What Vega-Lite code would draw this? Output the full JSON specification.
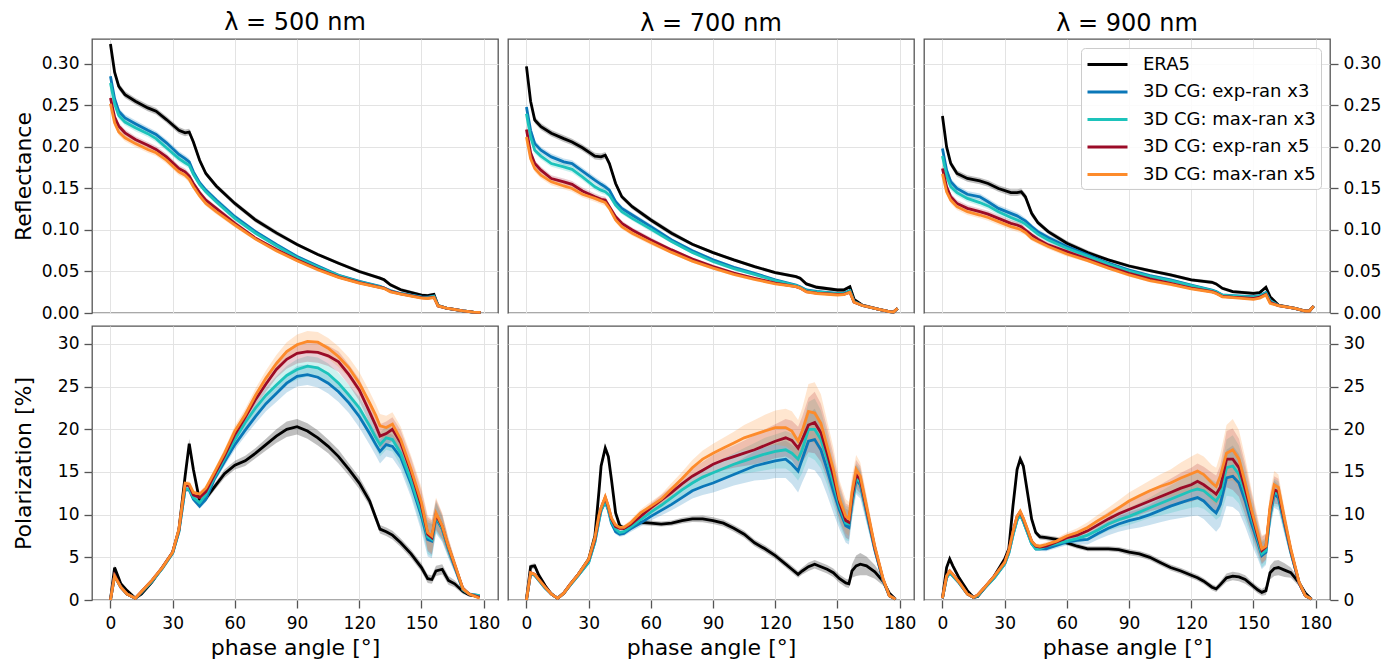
{
"$schema":"https://vega.github.io/schema/vega-lite/v6.json",
"background":"white",
"padding":{"left":11,"top":10,"right":5,"bottom":0},
"datasets":{
"R5":[
{"x":0,"E":0.324,"B":0.285,"C":0.277,"D":0.259,"O":0.252,"a":0.004,"g":0.004},
{"x":2,"E":0.290,"B":0.258,"C":0.252,"D":0.236,"O":0.229,"a":0.004,"g":0.004},
{"x":4,"E":0.273,"B":0.243,"C":0.238,"D":0.225,"O":0.218,"a":0.004,"g":0.004},
{"x":7,"E":0.263,"B":0.235,"C":0.230,"D":0.217,"O":0.211,"a":0.004,"g":0.004},
{"x":12,"E":0.255,"B":0.228,"C":0.223,"D":0.209,"O":0.204,"a":0.004,"g":0.004},
{"x":18,"E":0.247,"B":0.220,"C":0.216,"D":0.202,"O":0.197,"a":0.004,"g":0.004},
{"x":22,"E":0.243,"B":0.215,"C":0.210,"D":0.197,"O":0.193,"a":0.004,"g":0.004},
{"x":27,"E":0.233,"B":0.205,"C":0.199,"D":0.188,"O":0.184,"a":0.004,"g":0.004},
{"x":33,"E":0.220,"B":0.191,"C":0.186,"D":0.174,"O":0.170,"a":0.004,"g":0.004},
{"x":36,"E":0.217,"B":0.186,"C":0.181,"D":0.170,"O":0.166,"a":0.004,"g":0.004},
{"x":38,"E":0.218,"B":0.182,"C":0.178,"D":0.165,"O":0.161,"a":0.004,"g":0.004},
{"x":40,"E":0.206,"B":0.170,"C":0.167,"D":0.156,"O":0.152,"a":0.004,"g":0.003},
{"x":43,"E":0.184,"B":0.157,"C":0.155,"D":0.145,"O":0.141,"a":0.004,"g":0.003},
{"x":46,"E":0.168,"B":0.148,"C":0.146,"D":0.136,"O":0.132,"a":0.003,"g":0.003},
{"x":51,"E":0.153,"B":0.136,"C":0.134,"D":0.126,"O":0.122,"a":0.003,"g":0.003},
{"x":60,"E":0.132,"B":0.116,"C":0.114,"D":0.108,"O":0.106,"a":0.003,"g":0.003},
{"x":70,"E":0.112,"B":0.098,"C":0.096,"D":0.090,"O":0.089,"a":0.003,"g":0.002},
{"x":80,"E":0.0965,"B":0.0825,"C":0.081,"D":0.0765,"O":0.075,"a":0.003,"g":0.002},
{"x":90,"E":0.0825,"B":0.068,"C":0.0665,"D":0.064,"O":0.063,"a":0.002,"g":0.002},
{"x":100,"E":0.0705,"B":0.0565,"C":0.0555,"D":0.053,"O":0.052,"a":0.002,"g":0.002},
{"x":110,"E":0.060,"B":0.0455,"C":0.045,"D":0.0435,"O":0.043,"a":0.002,"g":0.002},
{"x":120,"E":0.050,"B":0.038,"C":0.0375,"D":0.0365,"O":0.036,"a":0.002,"g":0.002},
{"x":130,"E":0.042,"B":0.032,"C":0.0315,"D":0.031,"O":0.0305,"a":0.002,"g":0.001},
{"x":132,"E":0.040,"B":0.030,"C":0.030,"D":0.030,"O":0.0295,"a":0.002,"g":0.001},
{"x":135,"E":0.034,"B":0.027,"C":0.0265,"D":0.026,"O":0.0255,"a":0.002,"g":0.001},
{"x":140,"E":0.028,"B":0.0235,"C":0.0232,"D":0.023,"O":0.0228,"a":0.002,"g":0.001},
{"x":150,"E":0.0215,"B":0.0195,"C":0.019,"D":0.0185,"O":0.018,"a":0.002,"g":0.001},
{"x":153,"E":0.021,"B":0.019,"C":0.0185,"D":0.018,"O":0.0175,"a":0.002,"g":0.001},
{"x":156,"E":0.0225,"B":0.0205,"C":0.020,"D":0.019,"O":0.0185,"a":0.002,"g":0.001},
{"x":158,"E":0.009,"B":0.009,"C":0.009,"D":0.0085,"O":0.0085,"a":0.001,"g":0.001},
{"x":162,"E":0.006,"B":0.006,"C":0.006,"D":0.006,"O":0.006,"a":0.001,"g":0.001},
{"x":170,"E":0.0025,"B":0.0025,"C":0.0025,"D":0.0025,"O":0.0025,"a":0.001,"g":0.001},
{"x":175,"E":0.001,"B":0.001,"C":0.001,"D":0.001,"O":0.001,"a":0.0005,"g":0.0005},
{"x":178.5,"E":0.0008,"B":0.0008,"C":0.0008,"D":0.0008,"O":0.0008,"a":0.0005,"g":0.0005}
],
"R7":[
{"x":0,"E":0.297,"B":0.248,"C":0.240,"D":0.221,"O":0.212,"a":0.005,"g":0.005},
{"x":2,"E":0.255,"B":0.220,"C":0.212,"D":0.193,"O":0.186,"a":0.004,"g":0.004},
{"x":4,"E":0.2325,"B":0.204,"C":0.196,"D":0.180,"O":0.174,"a":0.004,"g":0.004},
{"x":7,"E":0.2245,"B":0.196,"C":0.189,"D":0.172,"O":0.166,"a":0.004,"g":0.004},
{"x":12,"E":0.2165,"B":0.188,"C":0.180,"D":0.162,"O":0.158,"a":0.004,"g":0.004},
{"x":18,"E":0.210,"B":0.182,"C":0.176,"D":0.158,"O":0.153,"a":0.004,"g":0.004},
{"x":22,"E":0.206,"B":0.180,"C":0.173,"D":0.155,"O":0.150,"a":0.004,"g":0.004},
{"x":27,"E":0.199,"B":0.171,"C":0.164,"D":0.147,"O":0.143,"a":0.004,"g":0.004},
{"x":33,"E":0.189,"B":0.160,"C":0.152,"D":0.140,"O":0.138,"a":0.004,"g":0.004},
{"x":36,"E":0.188,"B":0.155,"C":0.148,"D":0.137,"O":0.135,"a":0.004,"g":0.004},
{"x":38,"E":0.190,"B":0.152,"C":0.146,"D":0.136,"O":0.133,"a":0.004,"g":0.004},
{"x":40,"E":0.180,"B":0.148,"C":0.142,"D":0.128,"O":0.126,"a":0.004,"g":0.003},
{"x":43,"E":0.156,"B":0.134,"C":0.130,"D":0.116,"O":0.112,"a":0.004,"g":0.003},
{"x":46,"E":0.140,"B":0.126,"C":0.122,"D":0.108,"O":0.104,"a":0.003,"g":0.003},
{"x":51,"E":0.128,"B":0.118,"C":0.114,"D":0.100,"O":0.096,"a":0.003,"g":0.003},
{"x":60,"E":0.112,"B":0.104,"C":0.101,"D":0.088,"O":0.085,"a":0.003,"g":0.003},
{"x":70,"E":0.096,"B":0.088,"C":0.086,"D":0.076,"O":0.073,"a":0.003,"g":0.002},
{"x":80,"E":0.0827,"B":0.075,"C":0.073,"D":0.065,"O":0.0625,"a":0.002,"g":0.002},
{"x":90,"E":0.0727,"B":0.064,"C":0.062,"D":0.056,"O":0.054,"a":0.002,"g":0.002},
{"x":100,"E":0.0639,"B":0.055,"C":0.0535,"D":0.048,"O":0.0465,"a":0.002,"g":0.002},
{"x":110,"E":0.0558,"B":0.0478,"C":0.0465,"D":0.0418,"O":0.0406,"a":0.002,"g":0.002},
{"x":120,"E":0.0486,"B":0.040,"C":0.039,"D":0.036,"O":0.035,"a":0.002,"g":0.001},
{"x":130,"E":0.0438,"B":0.0337,"C":0.033,"D":0.0317,"O":0.0317,"a":0.002,"g":0.001},
{"x":132,"E":0.0418,"B":0.0317,"C":0.031,"D":0.030,"O":0.030,"a":0.002,"g":0.001},
{"x":135,"E":0.035,"B":0.0277,"C":0.027,"D":0.0257,"O":0.0255,"a":0.002,"g":0.001},
{"x":140,"E":0.031,"B":0.026,"C":0.0255,"D":0.024,"O":0.0235,"a":0.002,"g":0.001},
{"x":150,"E":0.0277,"B":0.0237,"C":0.0232,"D":0.0225,"O":0.0217,"a":0.002,"g":0.001},
{"x":153,"E":0.0277,"B":0.0237,"C":0.0232,"D":0.0225,"O":0.022,"a":0.002,"g":0.001},
{"x":156,"E":0.0317,"B":0.027,"C":0.0265,"D":0.025,"O":0.025,"a":0.002,"g":0.001},
{"x":158,"E":0.0165,"B":0.0137,"C":0.0135,"D":0.013,"O":0.013,"a":0.001,"g":0.001},
{"x":162,"E":0.0096,"B":0.009,"C":0.009,"D":0.009,"O":0.009,"a":0.001,"g":0.001},
{"x":170,"E":0.0044,"B":0.0044,"C":0.0044,"D":0.0044,"O":0.0044,"a":0.001,"g":0.001},
{"x":175,"E":0.0016,"B":0.0016,"C":0.0016,"D":0.0016,"O":0.0016,"a":0.0005,"g":0.0005},
{"x":177,"E":0.0012,"B":0.0012,"C":0.0012,"D":0.0012,"O":0.0012,"a":0.0005,"g":0.0005},
{"x":179,"E":0.0056,"B":0.0056,"C":0.0056,"D":0.0056,"O":0.0056,"a":0.001,"g":0.001}
],
"R9":[
{"x":0,"E":0.2373,"B":0.198,"C":0.189,"D":0.174,"O":0.1675,"a":0.005,"g":0.005},
{"x":2,"E":0.200,"B":0.172,"C":0.165,"D":0.152,"O":0.146,"a":0.004,"g":0.004},
{"x":4,"E":0.180,"B":0.158,"C":0.152,"D":0.140,"O":0.136,"a":0.004,"g":0.004},
{"x":7,"E":0.168,"B":0.150,"C":0.145,"D":0.132,"O":0.128,"a":0.004,"g":0.004},
{"x":12,"E":0.162,"B":0.143,"C":0.138,"D":0.126,"O":0.122,"a":0.004,"g":0.004},
{"x":18,"E":0.159,"B":0.140,"C":0.133,"D":0.122,"O":0.118,"a":0.004,"g":0.004},
{"x":22,"E":0.156,"B":0.134,"C":0.129,"D":0.119,"O":0.115,"a":0.004,"g":0.004},
{"x":27,"E":0.150,"B":0.126,"C":0.122,"D":0.114,"O":0.110,"a":0.004,"g":0.004},
{"x":33,"E":0.145,"B":0.120,"C":0.115,"D":0.108,"O":0.104,"a":0.004,"g":0.004},
{"x":36,"E":0.145,"B":0.117,"C":0.112,"D":0.106,"O":0.102,"a":0.004,"g":0.004},
{"x":38,"E":0.146,"B":0.114,"C":0.110,"D":0.104,"O":0.100,"a":0.004,"g":0.004},
{"x":40,"E":0.140,"B":0.111,"C":0.107,"D":0.100,"O":0.097,"a":0.004,"g":0.003},
{"x":43,"E":0.120,"B":0.104,"C":0.101,"D":0.094,"O":0.090,"a":0.004,"g":0.003},
{"x":46,"E":0.109,"B":0.098,"C":0.095,"D":0.089,"O":0.086,"a":0.003,"g":0.003},
{"x":51,"E":0.098,"B":0.091,"C":0.088,"D":0.082,"O":0.080,"a":0.003,"g":0.003},
{"x":60,"E":0.084,"B":0.080,"C":0.078,"D":0.074,"O":0.071,"a":0.003,"g":0.003},
{"x":70,"E":0.0727,"B":0.070,"C":0.0685,"D":0.065,"O":0.063,"a":0.003,"g":0.002},
{"x":80,"E":0.0639,"B":0.060,"C":0.059,"D":0.056,"O":0.054,"a":0.002,"g":0.002},
{"x":90,"E":0.0566,"B":0.0518,"C":0.0506,"D":0.0478,"O":0.0458,"a":0.002,"g":0.002},
{"x":100,"E":0.051,"B":0.045,"C":0.044,"D":0.041,"O":0.039,"a":0.002,"g":0.002},
{"x":110,"E":0.0458,"B":0.0398,"C":0.039,"D":0.0357,"O":0.0345,"a":0.002,"g":0.002},
{"x":120,"E":0.0398,"B":0.0335,"C":0.033,"D":0.030,"O":0.029,"a":0.002,"g":0.001},
{"x":130,"E":0.037,"B":0.0277,"C":0.027,"D":0.0257,"O":0.025,"a":0.002,"g":0.001},
{"x":132,"E":0.035,"B":0.026,"C":0.0255,"D":0.024,"O":0.0235,"a":0.002,"g":0.001},
{"x":135,"E":0.0297,"B":0.0217,"C":0.0215,"D":0.020,"O":0.0195,"a":0.002,"g":0.001},
{"x":140,"E":0.0257,"B":0.021,"C":0.0205,"D":0.019,"O":0.0185,"a":0.002,"g":0.001},
{"x":150,"E":0.0237,"B":0.0197,"C":0.019,"D":0.0177,"O":0.0165,"a":0.002,"g":0.001},
{"x":153,"E":0.0245,"B":0.021,"C":0.0205,"D":0.019,"O":0.018,"a":0.002,"g":0.001},
{"x":156,"E":0.031,"B":0.0245,"C":0.024,"D":0.0225,"O":0.0217,"a":0.002,"g":0.001},
{"x":158,"E":0.0197,"B":0.015,"C":0.0145,"D":0.013,"O":0.0116,"a":0.001,"g":0.001},
{"x":162,"E":0.0096,"B":0.009,"C":0.009,"D":0.009,"O":0.009,"a":0.001,"g":0.001},
{"x":170,"E":0.0056,"B":0.0056,"C":0.0056,"D":0.0056,"O":0.0056,"a":0.001,"g":0.001},
{"x":175,"E":0.0024,"B":0.0024,"C":0.0024,"D":0.0024,"O":0.0024,"a":0.0005,"g":0.0005},
{"x":177,"E":0.0024,"B":0.0024,"C":0.0024,"D":0.0024,"O":0.0024,"a":0.0005,"g":0.0005},
{"x":179,"E":0.0084,"B":0.0084,"C":0.0084,"D":0.0084,"O":0.0084,"a":0.001,"g":0.001}
],
"P5":[
{"x":0,"E":0,"B":0,"C":0,"D":0,"O":0,"a":0,"g":0},
{"x":2,"E":3.8,"B":2.8,"C":2.8,"D":2.9,"O":2.8,"a":0.3,"g":0.2},
{"x":5,"E":1.9,"B":1.5,"C":1.5,"D":1.5,"O":1.5,"a":0.2,"g":0.15},
{"x":8,"E":1.1,"B":0.7,"C":0.7,"D":0.7,"O":0.7,"a":0.15,"g":0.15},
{"x":12,"E":0.2,"B":0.2,"C":0.2,"D":0.2,"O":0.2,"a":0.1,"g":0.1},
{"x":15,"E":0.7,"B":0.9,"C":0.9,"D":1.0,"O":1.0,"a":0.1,"g":0.1},
{"x":20,"E":2.1,"B":2.2,"C":2.2,"D":2.3,"O":2.3,"a":0.15,"g":0.15},
{"x":25,"E":3.8,"B":3.7,"C":3.7,"D":3.8,"O":3.8,"a":0.2,"g":0.2},
{"x":30,"E":5.6,"B":5.5,"C":5.5,"D":5.6,"O":5.6,"a":0.2,"g":0.2},
{"x":33,"E":8.2,"B":8.0,"C":8.0,"D":8.2,"O":8.3,"a":0.3,"g":0.3},
{"x":36,"E":14.5,"B":13.0,"C":13.0,"D":13.5,"O":13.7,"a":0.5,"g":0.3},
{"x":38,"E":18.3,"B":12.9,"C":13.0,"D":13.4,"O":13.6,"a":0.6,"g":0.3},
{"x":40,"E":15.3,"B":11.8,"C":12.0,"D":12.3,"O":12.6,"a":0.5,"g":0.3},
{"x":43,"E":11.6,"B":11.0,"C":11.4,"D":12.0,"O":12.4,"a":0.4,"g":0.3},
{"x":46,"E":11.9,"B":11.8,"C":12.3,"D":12.7,"O":13.1,"a":0.4,"g":0.35},
{"x":50,"E":13.2,"B":14.1,"C":14.3,"D":14.6,"O":14.9,"a":0.4,"g":0.4},
{"x":55,"E":14.8,"B":16.2,"C":16.6,"D":16.9,"O":17.2,"a":0.5,"g":0.5},
{"x":60,"E":15.8,"B":18.2,"C":18.8,"D":19.4,"O":19.8,"a":0.5,"g":0.6},
{"x":65,"E":16.3,"B":19.9,"C":20.8,"D":21.4,"O":21.7,"a":0.6,"g":0.7},
{"x":70,"E":17.2,"B":21.5,"C":22.5,"D":23.5,"O":24.0,"a":0.6,"g":0.8},
{"x":75,"E":18.2,"B":23.0,"C":24.0,"D":25.3,"O":26.0,"a":0.7,"g":0.9},
{"x":80,"E":19.2,"B":24.2,"C":25.2,"D":27.0,"O":27.7,"a":0.8,"g":1.0},
{"x":85,"E":20.0,"B":25.4,"C":26.3,"D":28.2,"O":29.1,"a":0.9,"g":1.1},
{"x":90,"E":20.3,"B":26.2,"C":27.0,"D":28.9,"O":29.9,"a":0.9,"g":1.2},
{"x":95,"E":19.8,"B":26.4,"C":27.4,"D":29.1,"O":30.3,"a":0.9,"g":1.2},
{"x":100,"E":19.0,"B":26.1,"C":27.2,"D":29.0,"O":30.2,"a":0.9,"g":1.2},
{"x":105,"E":18.0,"B":25.4,"C":26.5,"D":28.6,"O":29.5,"a":0.8,"g":1.2},
{"x":110,"E":16.8,"B":24.4,"C":25.4,"D":27.9,"O":28.5,"a":0.8,"g":1.2},
{"x":115,"E":15.3,"B":23.1,"C":24.0,"D":26.4,"O":27.2,"a":0.7,"g":1.2},
{"x":120,"E":13.7,"B":21.5,"C":22.5,"D":24.6,"O":25.4,"a":0.7,"g":1.3},
{"x":125,"E":11.6,"B":19.5,"C":20.4,"D":22.0,"O":23.1,"a":0.6,"g":1.3},
{"x":128,"E":9.6,"B":18.2,"C":19.0,"D":20.4,"O":21.6,"a":0.5,"g":1.3},
{"x":130,"E":8.3,"B":17.4,"C":18.2,"D":19.2,"O":20.4,"a":0.5,"g":1.4},
{"x":133,"E":8.0,"B":18.2,"C":19.0,"D":19.5,"O":20.2,"a":0.5,"g":1.4},
{"x":136,"E":7.6,"B":18.0,"C":18.8,"D":20.0,"O":20.6,"a":0.5,"g":1.4},
{"x":140,"E":6.7,"B":16.7,"C":17.2,"D":18.4,"O":18.8,"a":0.5,"g":1.5},
{"x":145,"E":5.4,"B":13.6,"C":14.0,"D":15.0,"O":15.3,"a":0.5,"g":1.6},
{"x":150,"E":3.8,"B":9.8,"C":10.2,"D":11.0,"O":11.4,"a":0.5,"g":1.8},
{"x":153,"E":2.5,"B":7.1,"C":7.4,"D":7.7,"O":7.9,"a":0.5,"g":2.0},
{"x":155,"E":2.4,"B":6.9,"C":7.1,"D":7.3,"O":7.5,"a":0.5,"g":2.0},
{"x":157,"E":3.4,"B":9.6,"C":9.8,"D":10.0,"O":10.2,"a":0.6,"g":1.8},
{"x":160,"E":3.6,"B":8.3,"C":8.4,"D":8.6,"O":8.7,"a":0.6,"g":1.5},
{"x":163,"E":2.3,"B":5.9,"C":6.0,"D":6.2,"O":6.3,"a":0.5,"g":1.0},
{"x":166,"E":1.9,"B":3.9,"C":4.0,"D":4.1,"O":4.2,"a":0.4,"g":0.7},
{"x":170,"E":1.0,"B":1.2,"C":1.2,"D":1.3,"O":1.3,"a":0.3,"g":0.4},
{"x":173,"E":0.6,"B":0.7,"C":0.7,"D":0.7,"O":0.7,"a":0.2,"g":0.2},
{"x":178,"E":0.4,"B":0.5,"C":0.5,"D":0.3,"O":0.2,"a":0.1,"g":0.1}
],
"P7":[
{"x":0,"E":0.1,"B":0,"C":0,"D":0,"O":0,"a":0.1,"g":0},
{"x":2,"E":3.9,"B":3.1,"C":3.1,"D":3.2,"O":3.2,"a":0.3,"g":0.2},
{"x":4,"E":4.0,"B":2.9,"C":2.9,"D":3.0,"O":3.0,"a":0.3,"g":0.2},
{"x":6,"E":2.9,"B":2.3,"C":2.3,"D":2.4,"O":2.4,"a":0.2,"g":0.15},
{"x":9,"E":1.7,"B":1.4,"C":1.4,"D":1.5,"O":1.5,"a":0.15,"g":0.1},
{"x":12,"E":0.7,"B":0.7,"C":0.7,"D":0.7,"O":0.7,"a":0.1,"g":0.1},
{"x":15,"E":0.2,"B":0.2,"C":0.2,"D":0.2,"O":0.2,"a":0.1,"g":0.1},
{"x":18,"E":0.8,"B":0.8,"C":0.8,"D":0.8,"O":0.8,"a":0.1,"g":0.1},
{"x":21,"E":1.8,"B":1.7,"C":1.7,"D":1.8,"O":1.8,"a":0.15,"g":0.15},
{"x":25,"E":3.0,"B":2.9,"C":2.9,"D":3.0,"O":3.0,"a":0.2,"g":0.2},
{"x":30,"E":4.8,"B":4.4,"C":4.4,"D":4.7,"O":4.8,"a":0.2,"g":0.2},
{"x":33,"E":7.5,"B":6.8,"C":6.8,"D":7.1,"O":7.3,"a":0.3,"g":0.3},
{"x":35,"E":12.8,"B":9.3,"C":9.4,"D":9.8,"O":10.0,"a":0.4,"g":0.3},
{"x":36,"E":15.7,"B":10.5,"C":10.5,"D":10.8,"O":10.8,"a":0.5,"g":0.35},
{"x":38,"E":17.8,"B":11.5,"C":11.6,"D":12.0,"O":12.1,"a":0.5,"g":0.4},
{"x":39.5,"E":16.8,"B":10.5,"C":10.6,"D":10.9,"O":11.0,"a":0.5,"g":0.35},
{"x":41,"E":14.1,"B":9.0,"C":9.2,"D":9.5,"O":9.6,"a":0.4,"g":0.3},
{"x":43,"E":10.2,"B":8.0,"C":8.3,"D":8.6,"O":8.8,"a":0.3,"g":0.3},
{"x":45,"E":8.7,"B":7.7,"C":7.9,"D":8.4,"O":8.5,"a":0.3,"g":0.3},
{"x":47,"E":8.4,"B":7.8,"C":8.0,"D":8.4,"O":8.5,"a":0.3,"g":0.3},
{"x":50,"E":8.6,"B":8.3,"C":8.5,"D":8.8,"O":9.0,"a":0.3,"g":0.35},
{"x":55,"E":9.1,"B":9.0,"C":9.4,"D":9.8,"O":10.2,"a":0.3,"g":0.4},
{"x":60,"E":9.0,"B":9.8,"C":10.3,"D":10.8,"O":11.0,"a":0.3,"g":0.5},
{"x":65,"E":8.9,"B":10.5,"C":11.1,"D":11.7,"O":11.8,"a":0.3,"g":0.6},
{"x":70,"E":9.0,"B":11.2,"C":12.0,"D":12.6,"O":13.0,"a":0.3,"g":0.7},
{"x":75,"E":9.3,"B":12.0,"C":12.9,"D":13.6,"O":14.2,"a":0.35,"g":0.8},
{"x":80,"E":9.5,"B":12.8,"C":13.7,"D":14.5,"O":15.5,"a":0.35,"g":0.9},
{"x":85,"E":9.5,"B":13.3,"C":14.4,"D":15.2,"O":16.5,"a":0.4,"g":1.0},
{"x":90,"E":9.3,"B":13.7,"C":14.9,"D":15.9,"O":17.2,"a":0.4,"g":1.1},
{"x":95,"E":9.0,"B":14.2,"C":15.4,"D":16.4,"O":17.8,"a":0.4,"g":1.2},
{"x":100,"E":8.4,"B":14.7,"C":15.9,"D":16.8,"O":18.4,"a":0.4,"g":1.3},
{"x":105,"E":7.7,"B":15.2,"C":16.3,"D":17.2,"O":19.0,"a":0.4,"g":1.5},
{"x":110,"E":6.7,"B":15.7,"C":16.7,"D":17.6,"O":19.4,"a":0.4,"g":1.7},
{"x":115,"E":6.0,"B":16.0,"C":17.1,"D":18.1,"O":19.8,"a":0.4,"g":1.9},
{"x":120,"E":5.2,"B":16.3,"C":17.4,"D":18.6,"O":20.2,"a":0.4,"g":2.0},
{"x":125,"E":4.2,"B":16.5,"C":17.6,"D":19.0,"O":20.2,"a":0.4,"g":2.2},
{"x":128,"E":3.6,"B":15.9,"C":17.2,"D":18.7,"O":19.8,"a":0.4,"g":2.3},
{"x":131,"E":3.0,"B":15.1,"C":16.5,"D":17.8,"O":18.6,"a":0.4,"g":2.5},
{"x":133,"E":3.4,"B":16.5,"C":17.6,"D":18.8,"O":19.8,"a":0.4,"g":2.7},
{"x":136,"E":3.9,"B":18.6,"C":20.0,"D":20.5,"O":22.1,"a":0.5,"g":3.2},
{"x":139,"E":4.2,"B":18.8,"C":20.0,"D":20.8,"O":21.9,"a":0.5,"g":3.6},
{"x":142,"E":3.9,"B":17.6,"C":18.8,"D":19.6,"O":20.7,"a":0.5,"g":3.4},
{"x":145,"E":3.6,"B":15.3,"C":16.5,"D":17.2,"O":18.0,"a":0.5,"g":3.0},
{"x":148,"E":3.2,"B":12.8,"C":13.7,"D":14.5,"O":15.3,"a":0.5,"g":2.6},
{"x":151,"E":2.5,"B":10.5,"C":11.0,"D":11.4,"O":11.8,"a":0.5,"g":2.2},
{"x":154,"E":2.0,"B":8.7,"C":9.0,"D":9.3,"O":9.8,"a":0.5,"g":2.0},
{"x":155.5,"E":1.9,"B":8.5,"C":8.9,"D":9.1,"O":9.5,"a":0.5,"g":2.0},
{"x":157,"E":3.4,"B":11.3,"C":11.6,"D":12.0,"O":12.6,"a":0.8,"g":1.9},
{"x":159,"E":4.0,"B":14.1,"C":14.3,"D":14.7,"O":15.3,"a":1.2,"g":1.7},
{"x":161,"E":4.2,"B":13.5,"C":13.8,"D":14.1,"O":14.5,"a":1.3,"g":1.6},
{"x":164,"E":4.0,"B":10.3,"C":10.5,"D":10.7,"O":11.0,"a":1.1,"g":1.3},
{"x":168,"E":3.3,"B":5.9,"C":6.0,"D":6.1,"O":6.3,"a":0.8,"g":0.8},
{"x":172,"E":2.2,"B":2.3,"C":2.3,"D":2.4,"O":2.5,"a":0.5,"g":0.4},
{"x":175,"E":0.8,"B":0.5,"C":0.5,"D":0.5,"O":0.5,"a":0.3,"g":0.2},
{"x":178,"E":0.1,"B":0.1,"C":0.1,"D":0.1,"O":0.1,"a":0.1,"g":0.1}
],
"P9":[
{"x":0,"E":0.2,"B":0.2,"C":0.2,"D":0.2,"O":0.2,"a":0.1,"g":0.1},
{"x":2,"E":3.8,"B":2.6,"C":2.6,"D":2.8,"O":2.8,"a":0.3,"g":0.2},
{"x":3.5,"E":4.8,"B":3.2,"C":3.2,"D":3.4,"O":3.4,"a":0.3,"g":0.2},
{"x":5,"E":4.0,"B":2.8,"C":2.8,"D":3.0,"O":3.0,"a":0.3,"g":0.2},
{"x":8,"E":2.6,"B":2.0,"C":2.0,"D":2.1,"O":2.1,"a":0.2,"g":0.15},
{"x":12,"E":1.1,"B":0.7,"C":0.7,"D":0.7,"O":0.7,"a":0.1,"g":0.1},
{"x":15,"E":0.3,"B":0.3,"C":0.3,"D":0.3,"O":0.3,"a":0.1,"g":0.1},
{"x":17,"E":0.4,"B":0.5,"C":0.5,"D":0.6,"O":0.6,"a":0.1,"g":0.1},
{"x":20,"E":1.3,"B":1.3,"C":1.3,"D":1.4,"O":1.4,"a":0.1,"g":0.1},
{"x":25,"E":2.8,"B":2.6,"C":2.6,"D":2.8,"O":2.8,"a":0.2,"g":0.2},
{"x":30,"E":4.8,"B":4.2,"C":4.2,"D":4.4,"O":4.4,"a":0.2,"g":0.2},
{"x":32,"E":6.0,"B":5.5,"C":5.5,"D":5.8,"O":5.8,"a":0.3,"g":0.2},
{"x":34,"E":11.0,"B":7.6,"C":7.6,"D":8.0,"O":8.0,"a":0.4,"g":0.3},
{"x":36,"E":15.3,"B":9.4,"C":9.4,"D":9.8,"O":9.8,"a":0.5,"g":0.3},
{"x":37.5,"E":16.5,"B":10.0,"C":10.0,"D":10.3,"O":10.4,"a":0.5,"g":0.35},
{"x":39,"E":15.7,"B":9.2,"C":9.2,"D":9.5,"O":9.6,"a":0.5,"g":0.3},
{"x":41,"E":12.6,"B":7.9,"C":7.9,"D":8.2,"O":8.3,"a":0.4,"g":0.3},
{"x":43,"E":9.5,"B":6.6,"C":6.6,"D":6.9,"O":6.9,"a":0.3,"g":0.25},
{"x":45,"E":7.9,"B":6.0,"C":6.0,"D":6.3,"O":6.4,"a":0.3,"g":0.25},
{"x":47,"E":7.4,"B":6.0,"C":6.0,"D":6.2,"O":6.3,"a":0.3,"g":0.25},
{"x":50,"E":7.3,"B":6.0,"C":6.3,"D":6.3,"O":6.5,"a":0.3,"g":0.3},
{"x":55,"E":7.1,"B":6.4,"C":6.6,"D":6.8,"O":6.9,"a":0.3,"g":0.35},
{"x":60,"E":6.7,"B":6.8,"C":6.9,"D":7.3,"O":7.5,"a":0.3,"g":0.4},
{"x":65,"E":6.3,"B":7.0,"C":7.2,"D":7.6,"O":7.9,"a":0.3,"g":0.5},
{"x":70,"E":6.0,"B":7.1,"C":7.6,"D":8.1,"O":8.5,"a":0.3,"g":0.6},
{"x":75,"E":6.0,"B":7.8,"C":8.2,"D":8.8,"O":9.3,"a":0.3,"g":0.7},
{"x":80,"E":6.0,"B":8.4,"C":8.9,"D":9.5,"O":10.0,"a":0.3,"g":0.8},
{"x":85,"E":5.9,"B":8.9,"C":9.4,"D":10.1,"O":10.8,"a":0.3,"g":0.9},
{"x":90,"E":5.6,"B":9.3,"C":9.8,"D":10.6,"O":11.6,"a":0.35,"g":1.0},
{"x":95,"E":5.4,"B":9.6,"C":10.3,"D":11.1,"O":12.2,"a":0.35,"g":1.1},
{"x":100,"E":5.0,"B":10.0,"C":10.8,"D":11.6,"O":12.8,"a":0.35,"g":1.2},
{"x":105,"E":4.4,"B":10.5,"C":11.3,"D":12.1,"O":13.3,"a":0.35,"g":1.4},
{"x":110,"E":3.8,"B":11.0,"C":11.8,"D":12.6,"O":13.7,"a":0.35,"g":1.6},
{"x":115,"E":3.4,"B":11.4,"C":12.3,"D":13.1,"O":14.3,"a":0.35,"g":1.8},
{"x":120,"E":2.9,"B":11.8,"C":12.8,"D":13.5,"O":14.8,"a":0.35,"g":2.0},
{"x":123,"E":2.6,"B":12.0,"C":13.0,"D":13.9,"O":15.1,"a":0.35,"g":2.1},
{"x":126,"E":2.2,"B":11.6,"C":12.8,"D":13.5,"O":14.7,"a":0.35,"g":2.1},
{"x":130,"E":1.5,"B":10.6,"C":12.0,"D":12.8,"O":13.7,"a":0.35,"g":2.1},
{"x":132,"E":1.3,"B":10.2,"C":11.6,"D":12.4,"O":13.3,"a":0.35,"g":2.2},
{"x":134,"E":1.8,"B":11.2,"C":12.4,"D":13.2,"O":14.5,"a":0.4,"g":2.6},
{"x":137,"E":2.6,"B":14.3,"C":15.5,"D":16.5,"O":17.2,"a":0.5,"g":3.3},
{"x":140,"E":2.8,"B":14.5,"C":15.7,"D":16.5,"O":17.6,"a":0.5,"g":3.6},
{"x":143,"E":2.7,"B":13.7,"C":14.7,"D":15.5,"O":16.5,"a":0.5,"g":3.4},
{"x":146,"E":2.4,"B":11.6,"C":12.4,"D":13.0,"O":13.7,"a":0.5,"g":3.0},
{"x":149,"E":1.8,"B":9.0,"C":9.7,"D":10.2,"O":10.6,"a":0.4,"g":2.4},
{"x":152,"E":1.2,"B":6.8,"C":7.2,"D":7.5,"O":7.9,"a":0.4,"g":1.9},
{"x":154,"E":0.9,"B":5.2,"C":5.4,"D":5.8,"O":6.0,"a":0.4,"g":1.6},
{"x":156,"E":1.1,"B":5.6,"C":5.8,"D":6.2,"O":6.3,"a":0.5,"g":1.5},
{"x":158,"E":3.2,"B":9.9,"C":10.2,"D":10.6,"O":11.0,"a":0.8,"g":1.6},
{"x":160,"E":3.7,"B":12.4,"C":12.6,"D":12.9,"O":13.5,"a":0.9,"g":1.6},
{"x":162,"E":3.8,"B":12.0,"C":12.4,"D":12.7,"O":13.2,"a":0.9,"g":1.5},
{"x":165,"E":3.5,"B":8.8,"C":9.0,"D":9.2,"O":9.5,"a":0.8,"g":1.2},
{"x":168,"E":3.2,"B":5.6,"C":5.7,"D":5.8,"O":6.0,"a":0.6,"g":0.8},
{"x":172,"E":2.0,"B":2.0,"C":2.0,"D":2.0,"O":2.1,"a":0.4,"g":0.4},
{"x":175,"E":0.8,"B":0.5,"C":0.5,"D":0.5,"O":0.5,"a":0.3,"g":0.2},
{"x":178,"E":0.1,"B":0.1,"C":0.1,"D":0.1,"O":0.1,"a":0.1,"g":0.1}
]
},
"columns":3,
"spacing":{"row":3,"column":6},
"resolve":{"scale":{"x":"independent","y":"independent","color":"independent"},"legend":{"color":"independent"}},
"concat":[
{"data":{"name":"R5"},"width":406,"height":274,"title":{"text":"λ = 500 nm","anchor":"middle","offset":3},
"encoding":{"x":{"field":"x","type":"quantitative","scale":{"domain":[-8.9,186.9],"nice":false,"zero":false},"axis":{"title":null,"labels":false,"ticks":false,"domain":false,"values":[0,30,60,90,120,150,180],"maxExtent":0,"minExtent":0}}},
"layer":[
{"mark":{"type":"errorband","color":"#000000","opacity":0.25},"encoding":{"y":{"field":"E","type":"quantitative","axis":{"title":"Reflectance","values":[0,0.05,0.1,0.15,0.2,0.25,0.3],"format":".2f","domain":false,"tickSize":8,"labelPadding":5,"minExtent":51,"maxExtent":51,"titlePadding":6}},"yError":{"field":"a"}}},
{"mark":{"type":"errorband","color":"#0a77b8","opacity":0.22},"encoding":{"y":{"field":"B","type":"quantitative","axis":{"title":"Reflectance","values":[0,0.05,0.1,0.15,0.2,0.25,0.3],"format":".2f","domain":false,"tickSize":8,"labelPadding":5,"minExtent":51,"maxExtent":51,"titlePadding":6}},"yError":{"field":"g"}}},
{"mark":{"type":"errorband","color":"#1dc3bb","opacity":0.22},"encoding":{"y":{"field":"C","type":"quantitative","axis":{"title":"Reflectance","values":[0,0.05,0.1,0.15,0.2,0.25,0.3],"format":".2f","domain":false,"tickSize":8,"labelPadding":5,"minExtent":51,"maxExtent":51,"titlePadding":6}},"yError":{"field":"g"}}},
{"mark":{"type":"errorband","color":"#9b0b27","opacity":0.2},"encoding":{"y":{"field":"D","type":"quantitative","axis":{"title":"Reflectance","values":[0,0.05,0.1,0.15,0.2,0.25,0.3],"format":".2f","domain":false,"tickSize":8,"labelPadding":5,"minExtent":51,"maxExtent":51,"titlePadding":6}},"yError":{"field":"g"}}},
{"mark":{"type":"errorband","color":"#fd8b2b","opacity":0.22},"encoding":{"y":{"field":"O","type":"quantitative","axis":{"title":"Reflectance","values":[0,0.05,0.1,0.15,0.2,0.25,0.3],"format":".2f","domain":false,"tickSize":8,"labelPadding":5,"minExtent":51,"maxExtent":51,"titlePadding":6}},"yError":{"field":"g"}}},
{"transform":[{"fold":["E","B","C","D","O"],"as":["s","v"]}],"mark":{"type":"line","strokeWidth":2.8},
"encoding":{"y":{"field":"v","type":"quantitative","scale":{"domain":[0,0.33],"nice":false,"zero":false},"axis":{"title":"Reflectance","values":[0,0.05,0.1,0.15,0.2,0.25,0.3],"format":".2f","domain":false,"tickSize":8,"labelPadding":5,"minExtent":51,"maxExtent":51,"titlePadding":6}},
"color":{"field":"s","type":"nominal","scale":{"domain":["E","B","C","D","O"],"range":["#000000","#0a77b8","#1dc3bb","#9b0b27","#fd8b2b"]},"legend":null}}}
]},
{"data":{"name":"R7"},"width":406,"height":274,"title":{"text":"λ = 700 nm","anchor":"middle","offset":3},
"encoding":{"x":{"field":"x","type":"quantitative","scale":{"domain":[-8.9,186.9],"nice":false,"zero":false},"axis":{"title":null,"labels":false,"ticks":false,"domain":false,"values":[0,30,60,90,120,150,180],"maxExtent":0,"minExtent":0}}},
"layer":[
{"mark":{"type":"errorband","color":"#000000","opacity":0.25},"encoding":{"y":{"field":"E","type":"quantitative","axis":{"title":null,"labels":false,"ticks":false,"domain":false,"values":[0,0.05,0.1,0.15,0.2,0.25,0.3]}},"yError":{"field":"a"}}},
{"mark":{"type":"errorband","color":"#0a77b8","opacity":0.22},"encoding":{"y":{"field":"B","type":"quantitative","axis":{"title":null,"labels":false,"ticks":false,"domain":false,"values":[0,0.05,0.1,0.15,0.2,0.25,0.3]}},"yError":{"field":"g"}}},
{"mark":{"type":"errorband","color":"#1dc3bb","opacity":0.22},"encoding":{"y":{"field":"C","type":"quantitative","axis":{"title":null,"labels":false,"ticks":false,"domain":false,"values":[0,0.05,0.1,0.15,0.2,0.25,0.3]}},"yError":{"field":"g"}}},
{"mark":{"type":"errorband","color":"#9b0b27","opacity":0.2},"encoding":{"y":{"field":"D","type":"quantitative","axis":{"title":null,"labels":false,"ticks":false,"domain":false,"values":[0,0.05,0.1,0.15,0.2,0.25,0.3]}},"yError":{"field":"g"}}},
{"mark":{"type":"errorband","color":"#fd8b2b","opacity":0.22},"encoding":{"y":{"field":"O","type":"quantitative","axis":{"title":null,"labels":false,"ticks":false,"domain":false,"values":[0,0.05,0.1,0.15,0.2,0.25,0.3]}},"yError":{"field":"g"}}},
{"transform":[{"fold":["E","B","C","D","O"],"as":["s","v"]}],"mark":{"type":"line","strokeWidth":2.8},
"encoding":{"y":{"field":"v","type":"quantitative","scale":{"domain":[0,0.33],"nice":false,"zero":false},"axis":{"title":null,"labels":false,"ticks":false,"domain":false,"values":[0,0.05,0.1,0.15,0.2,0.25,0.3]}},
"color":{"field":"s","type":"nominal","scale":{"domain":["E","B","C","D","O"],"range":["#000000","#0a77b8","#1dc3bb","#9b0b27","#fd8b2b"]},"legend":null}}}
]},
{"data":{"name":"R9"},"width":406,"height":274,"title":{"text":"λ = 900 nm","anchor":"middle","offset":3},
"encoding":{"x":{"field":"x","type":"quantitative","scale":{"domain":[-8.9,186.9],"nice":false,"zero":false},"axis":{"title":null,"labels":false,"ticks":false,"domain":false,"values":[0,30,60,90,120,150,180],"maxExtent":0,"minExtent":0}}},
"layer":[
{"mark":{"type":"errorband","color":"#000000","opacity":0.25},"encoding":{"y":{"field":"E","type":"quantitative","axis":{"orient":"right","title":null,"values":[0,0.05,0.1,0.15,0.2,0.25,0.3],"format":".2f","domain":false,"tickSize":8,"labelPadding":5}},"yError":{"field":"a"}}},
{"mark":{"type":"errorband","color":"#0a77b8","opacity":0.22},"encoding":{"y":{"field":"B","type":"quantitative","axis":{"orient":"right","title":null,"values":[0,0.05,0.1,0.15,0.2,0.25,0.3],"format":".2f","domain":false,"tickSize":8,"labelPadding":5}},"yError":{"field":"g"}}},
{"mark":{"type":"errorband","color":"#1dc3bb","opacity":0.22},"encoding":{"y":{"field":"C","type":"quantitative","axis":{"orient":"right","title":null,"values":[0,0.05,0.1,0.15,0.2,0.25,0.3],"format":".2f","domain":false,"tickSize":8,"labelPadding":5}},"yError":{"field":"g"}}},
{"mark":{"type":"errorband","color":"#9b0b27","opacity":0.2},"encoding":{"y":{"field":"D","type":"quantitative","axis":{"orient":"right","title":null,"values":[0,0.05,0.1,0.15,0.2,0.25,0.3],"format":".2f","domain":false,"tickSize":8,"labelPadding":5}},"yError":{"field":"g"}}},
{"mark":{"type":"errorband","color":"#fd8b2b","opacity":0.22},"encoding":{"y":{"field":"O","type":"quantitative","axis":{"orient":"right","title":null,"values":[0,0.05,0.1,0.15,0.2,0.25,0.3],"format":".2f","domain":false,"tickSize":8,"labelPadding":5}},"yError":{"field":"g"}}},
{"transform":[{"fold":["E","B","C","D","O"],"as":["s","v"]}],"mark":{"type":"line","strokeWidth":2.8},
"encoding":{"y":{"field":"v","type":"quantitative","scale":{"domain":[0,0.33],"nice":false,"zero":false},"axis":{"orient":"right","title":null,"values":[0,0.05,0.1,0.15,0.2,0.25,0.3],"format":".2f","domain":false,"tickSize":8,"labelPadding":5}},
"color":{"field":"s","type":"nominal","scale":{"domain":["E","B","C","D","O"],"range":["#000000","#0a77b8","#1dc3bb","#9b0b27","#fd8b2b"]},
"legend":{"title":null,"orient":"top-right","offset":9,"labelExpr":"datum.label=='E'?'ERA5':datum.label=='B'?'3D CG: exp-ran x3':datum.label=='C'?'3D CG: max-ran x3':datum.label=='D'?'3D CG: exp-ran x5':'3D CG: max-ran x5'","symbolType":"M-1,0H3","symbolSize":400,"symbolStrokeWidth":3,"labelFontSize":18,"labelLimit":400,"labelOffset":34,"rowPadding":6.5,"padding":5,"fillColor":"rgba(255,255,255,0.85)","strokeColor":"#cccccc","cornerRadius":4,"labelColor":"#000000"}}}}
]},
{"data":{"name":"P5"},"width":406,"height":274,
"encoding":{"x":{"field":"x","type":"quantitative","scale":{"domain":[-8.9,186.9],"nice":false,"zero":false},"axis":{"title":"phase angle [°]","values":[0,30,60,90,120,150,180],"domain":false,"tickSize":8,"labelPadding":7,"titlePadding":6}}},
"layer":[
{"mark":{"type":"errorband","color":"#000000","opacity":0.25},"encoding":{"y":{"field":"E","type":"quantitative","axis":{"title":"Polarization [%]","values":[0,5,10,15,20,25,30],"format":"d","domain":false,"tickSize":8,"labelPadding":5,"minExtent":51,"maxExtent":51,"titlePadding":6}},"yError":{"field":"a"}}},
{"mark":{"type":"errorband","color":"#0a77b8","opacity":0.22},"encoding":{"y":{"field":"B","type":"quantitative","axis":{"title":"Polarization [%]","values":[0,5,10,15,20,25,30],"format":"d","domain":false,"tickSize":8,"labelPadding":5,"minExtent":51,"maxExtent":51,"titlePadding":6}},"yError":{"field":"g"}}},
{"mark":{"type":"errorband","color":"#1dc3bb","opacity":0.22},"encoding":{"y":{"field":"C","type":"quantitative","axis":{"title":"Polarization [%]","values":[0,5,10,15,20,25,30],"format":"d","domain":false,"tickSize":8,"labelPadding":5,"minExtent":51,"maxExtent":51,"titlePadding":6}},"yError":{"field":"g"}}},
{"mark":{"type":"errorband","color":"#9b0b27","opacity":0.2},"encoding":{"y":{"field":"D","type":"quantitative","axis":{"title":"Polarization [%]","values":[0,5,10,15,20,25,30],"format":"d","domain":false,"tickSize":8,"labelPadding":5,"minExtent":51,"maxExtent":51,"titlePadding":6}},"yError":{"field":"g"}}},
{"mark":{"type":"errorband","color":"#fd8b2b","opacity":0.22},"encoding":{"y":{"field":"O","type":"quantitative","axis":{"title":"Polarization [%]","values":[0,5,10,15,20,25,30],"format":"d","domain":false,"tickSize":8,"labelPadding":5,"minExtent":51,"maxExtent":51,"titlePadding":6}},"yError":{"field":"g"}}},
{"transform":[{"fold":["E","B","C","D","O"],"as":["s","v"]}],"mark":{"type":"line","strokeWidth":2.8},
"encoding":{"y":{"field":"v","type":"quantitative","scale":{"domain":[0,32.1],"nice":false,"zero":false},"axis":{"title":"Polarization [%]","values":[0,5,10,15,20,25,30],"format":"d","domain":false,"tickSize":8,"labelPadding":5,"minExtent":51,"maxExtent":51,"titlePadding":6}},
"color":{"field":"s","type":"nominal","scale":{"domain":["E","B","C","D","O"],"range":["#000000","#0a77b8","#1dc3bb","#9b0b27","#fd8b2b"]},"legend":null}}}
]},
{"data":{"name":"P7"},"width":406,"height":274,
"encoding":{"x":{"field":"x","type":"quantitative","scale":{"domain":[-8.9,186.9],"nice":false,"zero":false},"axis":{"title":"phase angle [°]","values":[0,30,60,90,120,150,180],"domain":false,"tickSize":8,"labelPadding":7,"titlePadding":6}}},
"layer":[
{"mark":{"type":"errorband","color":"#000000","opacity":0.25},"encoding":{"y":{"field":"E","type":"quantitative","axis":{"title":null,"labels":false,"ticks":false,"domain":false,"values":[0,5,10,15,20,25,30]}},"yError":{"field":"a"}}},
{"mark":{"type":"errorband","color":"#0a77b8","opacity":0.22},"encoding":{"y":{"field":"B","type":"quantitative","axis":{"title":null,"labels":false,"ticks":false,"domain":false,"values":[0,5,10,15,20,25,30]}},"yError":{"field":"g"}}},
{"mark":{"type":"errorband","color":"#1dc3bb","opacity":0.22},"encoding":{"y":{"field":"C","type":"quantitative","axis":{"title":null,"labels":false,"ticks":false,"domain":false,"values":[0,5,10,15,20,25,30]}},"yError":{"field":"g"}}},
{"mark":{"type":"errorband","color":"#9b0b27","opacity":0.2},"encoding":{"y":{"field":"D","type":"quantitative","axis":{"title":null,"labels":false,"ticks":false,"domain":false,"values":[0,5,10,15,20,25,30]}},"yError":{"field":"g"}}},
{"mark":{"type":"errorband","color":"#fd8b2b","opacity":0.22},"encoding":{"y":{"field":"O","type":"quantitative","axis":{"title":null,"labels":false,"ticks":false,"domain":false,"values":[0,5,10,15,20,25,30]}},"yError":{"field":"g"}}},
{"transform":[{"fold":["E","B","C","D","O"],"as":["s","v"]}],"mark":{"type":"line","strokeWidth":2.8},
"encoding":{"y":{"field":"v","type":"quantitative","scale":{"domain":[0,32.1],"nice":false,"zero":false},"axis":{"title":null,"labels":false,"ticks":false,"domain":false,"values":[0,5,10,15,20,25,30]}},
"color":{"field":"s","type":"nominal","scale":{"domain":["E","B","C","D","O"],"range":["#000000","#0a77b8","#1dc3bb","#9b0b27","#fd8b2b"]},"legend":null}}}
]},
{"data":{"name":"P9"},"width":406,"height":274,
"encoding":{"x":{"field":"x","type":"quantitative","scale":{"domain":[-8.9,186.9],"nice":false,"zero":false},"axis":{"title":"phase angle [°]","values":[0,30,60,90,120,150,180],"domain":false,"tickSize":8,"labelPadding":7,"titlePadding":6}}},
"layer":[
{"mark":{"type":"errorband","color":"#000000","opacity":0.25},"encoding":{"y":{"field":"E","type":"quantitative","axis":{"orient":"right","title":null,"values":[0,5,10,15,20,25,30],"format":"d","domain":false,"tickSize":8,"labelPadding":5}},"yError":{"field":"a"}}},
{"mark":{"type":"errorband","color":"#0a77b8","opacity":0.22},"encoding":{"y":{"field":"B","type":"quantitative","axis":{"orient":"right","title":null,"values":[0,5,10,15,20,25,30],"format":"d","domain":false,"tickSize":8,"labelPadding":5}},"yError":{"field":"g"}}},
{"mark":{"type":"errorband","color":"#1dc3bb","opacity":0.22},"encoding":{"y":{"field":"C","type":"quantitative","axis":{"orient":"right","title":null,"values":[0,5,10,15,20,25,30],"format":"d","domain":false,"tickSize":8,"labelPadding":5}},"yError":{"field":"g"}}},
{"mark":{"type":"errorband","color":"#9b0b27","opacity":0.2},"encoding":{"y":{"field":"D","type":"quantitative","axis":{"orient":"right","title":null,"values":[0,5,10,15,20,25,30],"format":"d","domain":false,"tickSize":8,"labelPadding":5}},"yError":{"field":"g"}}},
{"mark":{"type":"errorband","color":"#fd8b2b","opacity":0.22},"encoding":{"y":{"field":"O","type":"quantitative","axis":{"orient":"right","title":null,"values":[0,5,10,15,20,25,30],"format":"d","domain":false,"tickSize":8,"labelPadding":5}},"yError":{"field":"g"}}},
{"transform":[{"fold":["E","B","C","D","O"],"as":["s","v"]}],"mark":{"type":"line","strokeWidth":2.8},
"encoding":{"y":{"field":"v","type":"quantitative","scale":{"domain":[0,32.1],"nice":false,"zero":false},"axis":{"orient":"right","title":null,"values":[0,5,10,15,20,25,30],"format":"d","domain":false,"tickSize":8,"labelPadding":5}},
"color":{"field":"s","type":"nominal","scale":{"domain":["E","B","C","D","O"],"range":["#000000","#0a77b8","#1dc3bb","#9b0b27","#fd8b2b"]},"legend":null}}}
]}
],
"config":{
"font":"DejaVu Sans",
"view":{"stroke":"#555555","strokeWidth":1.3},
"axis":{"labelFont":"DejaVu Sans","labelFontSize":17,"labelColor":"#000000","titleFont":"DejaVu Sans","titleFontSize":22,"titleFontWeight":"normal","titleColor":"#000000","tickColor":"#555555","tickWidth":1.3,"gridColor":"#e3e3e3","gridWidth":1,"grid":true},
"title":{"font":"DejaVu Sans","fontSize":24,"fontWeight":"normal","color":"#000000"},
"legend":{"labelFont":"DejaVu Sans"}
}
}
